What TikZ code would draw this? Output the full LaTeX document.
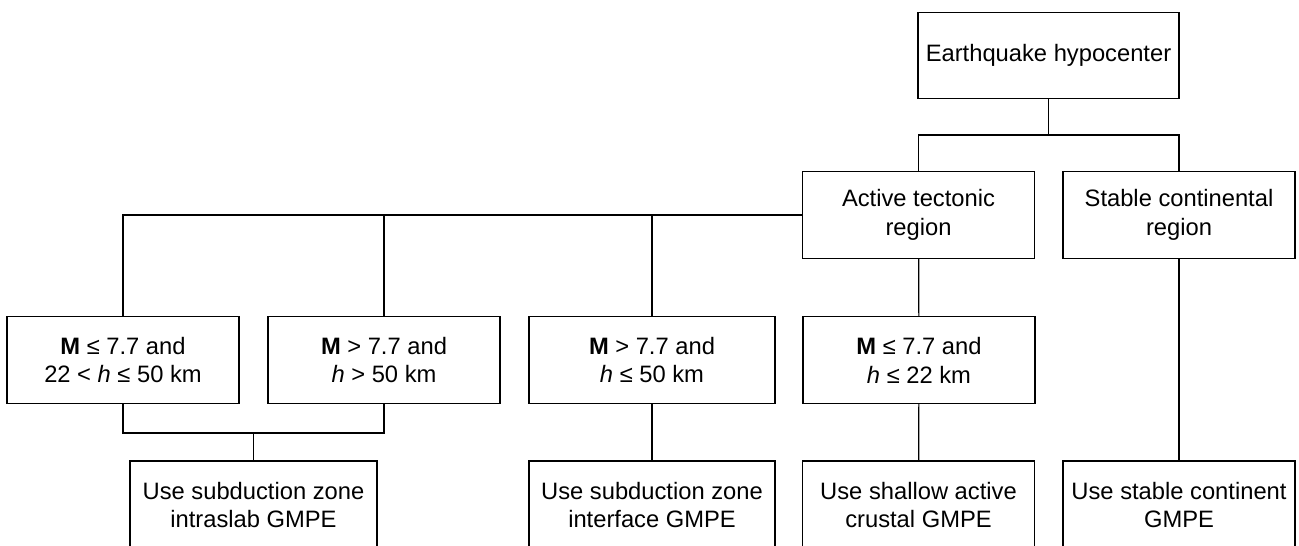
\documentclass[tikz,border=0pt]{standalone}
\usepackage{fontspec}
\setmainfont{Liberation Sans}

\tikzset{
  box/.style={draw, line width=0.9pt, align=center, inner sep=0pt,
    minimum width=174pt, minimum height=65pt,
    font=\fontsize{17.8}{21.7}\selectfont},
  link/.style={line width=0.9pt}
}

\begin{document}
\begin{tikzpicture}[x=0.75pt, y=-0.75pt]
  \path[use as bounding box] (0,0) rectangle (1299,546);
  \clip (0,0) rectangle (1299,546);

  % top and regions
  \node[box, minimum width=195.75pt] (quake) at (1048.5,55.5) {Earthquake hypocenter};
  \node[box] (active) at (918.5,215) {Active tectonic\\region};
  \node[box] (stable) at (1179,215) {Stable continental\\region};

  % conditions
  \node[box] (slab) at (123,360) {\textbf{M} ≤ 7.7 and\\22 < \textit{h} ≤ 50 km};
  \node[box] (deep) at (384,360) {\textbf{M} > 7.7 and\\\textit{h} > 50 km};
  \node[box, minimum width=184.5pt] (inter) at (652,360) {\textbf{M} > 7.7 and\\\textit{h} ≤ 50 km};
  \node[box] (shallow) at (919,360) {\textbf{M} ≤ 7.7 and\\\textit{h} ≤ 22 km};

  % GMPEs
  \node[box, minimum width=185.25pt, minimum height=66pt] (gslab) at (253.5,505) {Use subduction zone\\intraslab GMPE};
  \node[box, minimum width=184.5pt, minimum height=66pt] (ginter) at (652,505) {Use subduction zone\\interface GMPE};
  \node[box, minimum height=66pt] (gcrust) at (918.5,505) {Use shallow active\\crustal GMPE};
  \node[box, minimum height=66pt] (gstable) at (1179,505) {Use stable continent\\GMPE};

  \coordinate (split) at (1048.5,135);
  \coordinate (merge) at (253.5,433);

  \draw[link] (quake) -- (split);
  \draw[link] (active.north) |- (split) -| (stable.north);
  \draw[link] (active.west) -| (slab.north);
  \draw[link] (deep.north) -- (deep.north |- active.west);
  \draw[link] (inter.north) -- (inter.north |- active.west);
  \draw[link] (active) -- (shallow);
  \draw[link] (slab.south) |- (merge) -| (deep.south);
  \draw[link] (merge) -- (gslab);
  \draw[link] (inter) -- (ginter);
  \draw[link] (shallow) -- (gcrust);
  \draw[link] (stable) -- (gstable);
\end{tikzpicture}
\end{document}
